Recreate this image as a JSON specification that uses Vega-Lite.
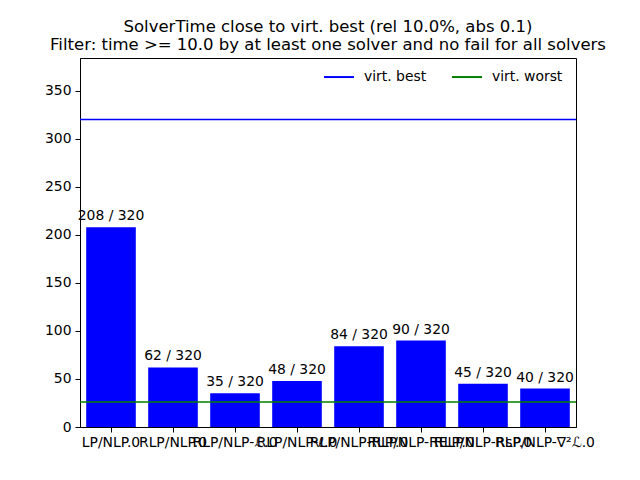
{
  "$schema": "https://vega.github.io/schema/vega-lite/v6.json",
  "width": 496,
  "height": 369,
  "autosize": {"type": "none"},
  "padding": {"left": 80, "top": 58, "right": 64, "bottom": 53},
  "background": "white",
  "config": {
    "font": "DejaVu Sans",
    "view": {"stroke": "black", "strokeWidth": 1},
    "axis": {"labelFont": "DejaVu Sans", "labelFontSize": 13.9, "labelColor": "black", "tickColor": "black", "domainColor": "black", "tickSize": 5, "grid": false, "titleFont": "DejaVu Sans"},
    "legend": {"labelFont": "DejaVu Sans", "labelFontSize": 13.9, "labelColor": "black"}
  },
  "title": {
    "text": ["SolverTime close to virt. best (rel 10.0%, abs 0.1)", "Filter: time >= 10.0 by at least one solver and no fail for all solvers"],
    "font": "DejaVu Sans",
    "fontSize": 16.5,
    "fontWeight": "normal",
    "color": "black",
    "anchor": "middle",
    "offset": 5,
    "lineHeight": 18
  },
  "datasets": {
    "bars": [
      {"solver": "LP/NLP.0", "count": 208, "label": "208 / 320"},
      {"solver": "RLP/NLP.0", "count": 62, "label": "62 / 320"},
      {"solver": "RLP/NLP-ℒ.0", "count": 35, "label": "35 / 320"},
      {"solver": "RLP/NLP-ℓ.0", "count": 48, "label": "48 / 320"},
      {"solver": "RLP/NLP-RLP.0", "count": 84, "label": "84 / 320"},
      {"solver": "RLP/NLP-RELP.0", "count": 90, "label": "90 / 320"},
      {"solver": "RLP/NLP-RsP.0", "count": 45, "label": "45 / 320"},
      {"solver": "RLP/NLP-∇²ℒ.0", "count": 40, "label": "40 / 320"}
    ],
    "lines": [
      {"name": "virt. best", "value": 320},
      {"name": "virt. worst", "value": 26}
    ]
  },
  "layer": [
    {
      "data": {"name": "bars"},
      "mark": {"type": "bar", "color": "#0000ff"},
      "encoding": {
        "x": {"field": "solver", "type": "nominal", "sort": null,
              "scale": {"paddingInner": 0.2, "paddingOuter": 0.1},
              "axis": {"title": null, "labelAngle": 0, "labelOverlap": false, "labelPadding": 3, "labelBound": false}},
        "y": {"field": "count", "type": "quantitative",
              "scale": {"domain": [0, 384], "nice": false},
              "axis": {"title": null, "values": [0, 50, 100, 150, 200, 250, 300, 350], "labelPadding": 4}}
      }
    },
    {
      "data": {"name": "bars"},
      "mark": {"type": "text", "baseline": "bottom", "dy": -4, "fontSize": 13.9, "color": "black", "font": "DejaVu Sans"},
      "encoding": {
        "x": {"field": "solver", "type": "nominal", "sort": null},
        "y": {"field": "count", "type": "quantitative"},
        "text": {"field": "label"}
      }
    },
    {
      "data": {"name": "lines"},
      "mark": {"type": "rule", "strokeWidth": 1.5},
      "encoding": {
        "y": {"field": "value", "type": "quantitative"},
        "color": {"field": "name", "type": "nominal",
                  "scale": {"domain": ["virt. best", "virt. worst"], "range": ["#0000ff", "#008000"]},
                  "legend": {"title": null, "orient": "none", "legendX": 243, "legendY": 3, "direction": "horizontal", "symbolType": "stroke", "symbolSize": 900, "symbolStrokeWidth": 2, "labelOffset": 9, "columnPadding": 21, "padding": 0}}
      }
    }
  ]
}
